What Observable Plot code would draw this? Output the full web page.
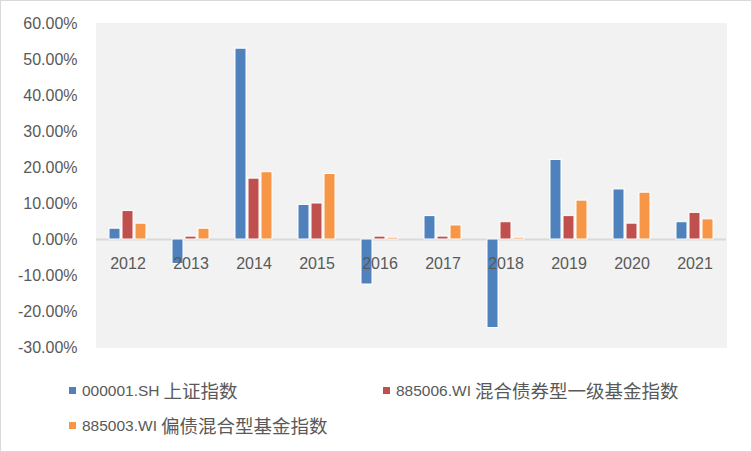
<!DOCTYPE html>
<html>
<head>
<meta charset="utf-8">
<script src="https://cdn.jsdelivr.net/npm/d3@7"></script>
<script src="https://cdn.jsdelivr.net/npm/@observablehq/plot@0.6"></script>
<style>
  html, body { margin: 0; padding: 0; background: #fff; }
  #wrap { position: relative; box-sizing: border-box; width: 752px; height: 452px; border: 1px solid #d9d9d9; background: #fff; overflow: hidden; font-family: "Liberation Sans", Arial, sans-serif; color: #595959; }
  #chart svg { display: block; }
  .legend-item { position: absolute; display: flex; align-items: center; font-size: 15.5px; white-space: nowrap; line-height: 1; }
  .legend-item .sw { width: 7px; height: 7px; margin-right: 6px; flex: none; }
  .legend-item .cjk { font-family: "Noto Sans CJK SC", sans-serif; font-size: 18.5px; margin-left: 4px; }
</style>
</head>
<body>
<div id="wrap">
  <div id="chart"></div>
  <div id="legend"></div>
</div>
<script>
const years = ["2012","2013","2014","2015","2016","2017","2018","2019","2020","2021"];
const seriesCodes = ["000001.SH", "885006.WI", "885003.WI"];
const seriesNames = ["上证指数", "混合债券型一级基金指数", "偏债混合型基金指数"];
const seriesColors = ["#4f81bd", "#c0504d", "#f79646"];
const shIndex   = [3.0, -6.8, 53.0, 9.6, -12.5, 6.5, -24.6, 22.1, 13.9, 4.8];
const bondFund1 = [7.9, 0.8, 16.9, 10.0, 0.8, 0.8, 4.8, 6.5, 4.4, 7.4];
const mixedBond = [4.4, 3.0, 18.7, 18.2, 0.5, 3.9, 0.5, 10.8, 13.0, 5.6];
const yTicks = [-30, -20, -10, 0, 10, 20, 30, 40, 50, 60];

const seriesValues = [shIndex, bondFund1, mixedBond];
const seriesLabels = seriesCodes.map((c, i) => c + " " + seriesNames[i]);
const rows = [];
years.forEach((yr, i) => {
  seriesLabels.forEach((s, j) => rows.push({year: yr, series: s, value: seriesValues[j][i]}));
});

const chart = Plot.plot({
  width: 750,
  height: 360,
  marginLeft: 93,
  marginRight: 23,
  marginTop: 22,
  marginBottom: 14,
  style: {fontFamily: "'Liberation Sans', Arial, sans-serif", fontSize: "16px", color: "#595959", background: "transparent"},
  fx: {domain: years, padding: 0, axis: null},
  x: {domain: seriesLabels, paddingInner: 0.12, paddingOuter: 0.85, axis: null},
  y: {domain: [-30, 60], ticks: yTicks, tickFormat: d => d.toFixed(2) + "%", tickSize: 0, tickPadding: 19, label: null},
  color: {domain: seriesLabels, range: seriesColors},
  marks: [
    Plot.frame({fill: "#f2f2f2", stroke: "#f2f2f2", strokeWidth: 1}),
    Plot.ruleY([0], {stroke: "#d9d9d9", strokeWidth: 2}),
    Plot.barY(rows, {fx: "year", x: "series", y: "value", fill: "series", stroke: "white", strokeWidth: 1}),
    Plot.text(years, {fx: d => d, y: () => 0, text: d => d, dy: 24, fill: "#595959", fontSize: 16})
  ]
});
document.getElementById("chart").appendChild(chart);

// legend
const legend = document.getElementById("legend");
const legendSpots = [[68, 380], [382, 380], [68, 415]];
seriesCodes.forEach((code, i) => {
  const item = document.createElement("div");
  item.className = "legend-item";
  item.style.left = legendSpots[i][0] + "px";
  item.style.top = legendSpots[i][1] + "px";
  const sw = document.createElement("span");
  sw.className = "sw";
  sw.style.background = seriesColors[i];
  const t1 = document.createElement("span");
  t1.textContent = code;
  const t2 = document.createElement("span");
  t2.className = "cjk";
  t2.textContent = seriesNames[i];
  item.append(sw, t1, t2);
  legend.appendChild(item);
});
</script>
</body>
</html>
